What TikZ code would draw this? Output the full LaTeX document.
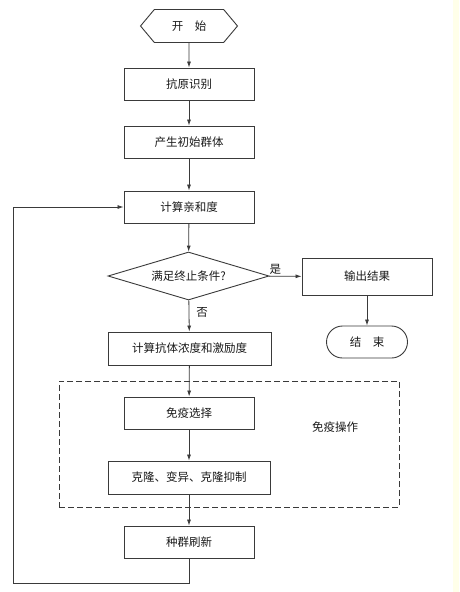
\documentclass[tikz,border=0pt]{standalone}
\usepackage{fontspec}
\usepackage{xcolor}
\usetikzlibrary{arrows.meta,shapes.geometric,shapes.symbols,positioning}
\newfontfamily\cjk{Noto Sans CJK SC}
\definecolor{ink}{HTML}{3A3A3A}
\definecolor{txtink}{HTML}{1A1A1A}
\definecolor{paper}{HTML}{FFFFE9}
\tikzset{flow/.style={-{Latex[length=6pt,width=4pt]}, line width=.8pt, color=ink}, proc/.style={draw=ink, line width=.9pt, minimum width=130pt, minimum height=32pt, inner sep=0pt, text=txtink, font=\cjk\fontsize{11.5}{14}\selectfont}, term/.style={proc, shape=signal, signal to=west and east, signal pointer angle=100, minimum width=97pt, minimum height=33pt}, cond/.style={proc, diamond, aspect=3.35, minimum width=161pt, minimum height=48pt}, stopbox/.style={proc, rounded corners=16pt, minimum width=81pt}, group/.style={draw=ink, line width=.9pt, dash pattern=on 6pt off 3pt, minimum width=340pt, minimum height=126pt}, lab/.style={text=txtink, font=\cjk\fontsize{11.5}{14}\selectfont, inner sep=1pt}}

\begin{document}
\begin{tikzpicture}[x=1pt,y=-1pt]
\useasboundingbox (0,0) rectangle (459,592);
\fill[white] (0,0) rectangle (459,592); \fill[paper] (453,0) rectangle (459,592);
\node[group] (caozuo) at (229,444) {}; \node[lab] (caozuolab) at (335,427) {免疫操作};
\node[term] (kaishi) at (189,26) {开\hspace{1em}始};
\node[proc] (kangyuan) at (189,84) {抗原识别};
\node[proc] (chushi) at (189,142) {产生初始群体};
\node[proc] (qinhe) at (189,207) {计算亲和度};
\node[cond] (zhongzhi) at (188.5,276) {满足终止条件?};
\node[proc, minimum height=37pt] (shuchu) at (367,276.5) {输出结果};
\node[stopbox] (jieshu) at (367,342) {结\hspace{1em}束};
\node[proc, minimum width=163pt, minimum height=33pt] (nongdu) at (189.5,348.5) {计算抗体浓度和激励度};
\node[proc] (xuanze) at (189,413) {免疫选择};
\node[proc, minimum width=162pt, minimum height=33pt] (kelong) at (189,477.5) {克隆、变异、克隆抑制};
\node[proc] (shuaxin) at (189,542) {种群刷新};
\coordinate (huilu) at (13,583);
\draw[flow] (kaishi) -- (kangyuan); \draw[flow] (kangyuan) -- (chushi); \draw[flow] (chushi) -- (qinhe); \draw[flow] (qinhe) -- (zhongzhi);
\draw[flow] (zhongzhi) -- node[lab, pos=.2, above] (shi) {是} (shuchu); \draw[flow] (shuchu) -- (jieshu);
\draw[flow] (zhongzhi) -- node[lab, pos=.38, right=6pt] (fou) {否} (nongdu);
\draw[flow] (nongdu) -- (xuanze); \draw[flow] (xuanze) -- (kelong); \draw[flow] (kelong) -- (shuaxin);
\draw[flow] (shuaxin.south) |- (huilu) |- (qinhe.west);
\end{tikzpicture}
\end{document}
